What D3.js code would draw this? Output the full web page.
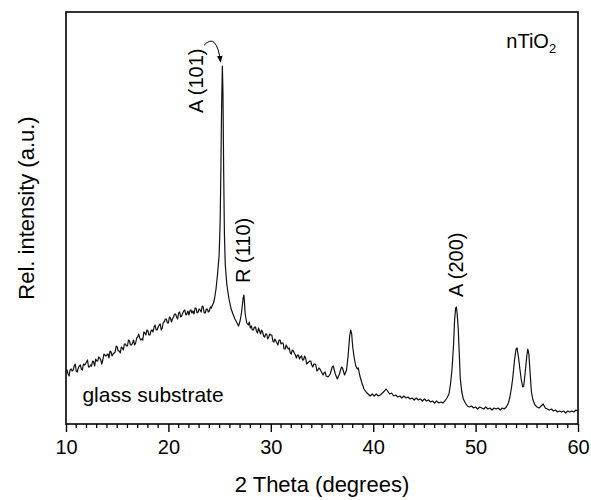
<!DOCTYPE html>
<html>
<head>
<meta charset="utf-8">
<script src="https://cdn.jsdelivr.net/npm/d3@7"></script>
<style>
  body { margin: 0; background: #fff; }
  svg { font-family: "Liberation Sans", Arial, sans-serif; }
</style>
</head>
<body>
<svg width="591" height="500"></svg>
<script>
  // XRD scan of nTiO2 on glass: [2theta, intensity]
  var scan = [
    [10.0,54],[10.1,54],[10.2,50],[10.3,48],[10.4,54],[10.5,55],[10.6,53],[10.7,54],[10.8,58],[10.9,60],
    [11.0,53],[11.1,52],[11.2,56],[11.3,58],[11.4,59],[11.5,55],[11.6,54],[11.7,60],[11.8,59],[11.9,60],
    [12.0,62],[12.1,64],[12.2,57],[12.3,57],[12.4,59],[12.5,58],[12.6,63],[12.7,62],[12.8,58],[12.9,65],
    [13.0,63],[13.1,63],[13.2,67],[13.3,66],[13.4,64],[13.5,60],[13.6,64],[13.7,70],[13.8,69],[13.9,68],
    [14.0,69],[14.1,70],[14.2,66],[14.3,73],[14.4,72],[14.5,68],[14.6,70],[14.7,71],[14.8,72],[14.9,78],
    [15.0,77],[15.1,73],[15.2,73],[15.3,71],[15.4,77],[15.5,76],[15.6,74],[15.7,80],[15.8,80],[15.9,78],
    [16.0,78],[16.1,84],[16.2,83],[16.3,79],[16.4,79],[16.5,81],[16.6,84],[16.7,79],[16.8,81],[16.9,86],
    [17.0,87],[17.1,90],[17.2,86],[17.3,84],[17.4,85],[17.5,84],[17.6,92],[17.7,91],[17.8,89],[17.9,94],
    [18.0,93],[18.1,89],[18.2,89],[18.3,93],[18.4,94],[18.5,92],[18.6,97],[18.7,99],[18.8,94],[18.9,94],
    [19.0,97],[19.1,99],[19.2,100],[19.3,94],[19.4,96],[19.5,102],[19.6,102],[19.7,105],[19.8,105],[19.9,101],
    [20.0,101],[20.1,107],[20.2,106],[20.3,102],[20.4,105],[20.5,107],[20.6,110],[20.7,110],[20.8,107],[20.9,105],
    [21.0,111],[21.1,112],[21.2,107],[21.3,108],[21.4,111],[21.5,113],[21.6,114],[21.7,109],[21.8,110],[21.9,113],
    [22.0,109],[22.1,113],[22.2,114],[22.3,111],[22.4,113],[22.5,110],[22.6,116],[22.7,116],[22.8,111],[22.9,112],
    [23.0,115],[23.1,114],[23.2,112],[23.3,118],[23.4,117],[23.5,111],[23.6,111],[23.7,115],[23.8,115],[23.9,112],
    [24.0,113],[24.1,117],[24.2,116],[24.3,119],[24.4,121],[24.5,125],[24.65,135],[24.8,150],[24.95,168],[25.05,200],
    [25.12,250],[25.2,320],[25.27,358],[25.33,330],[25.4,250],[25.47,190],[25.55,160],[25.7,140],[25.9,126],[26.1,116],
    [26.3,110],[26.5,105],[26.7,101],[26.85,98],[27.0,103],[27.15,112],[27.3,126],[27.38,129],[27.5,110],[27.65,101],
    [27.8,99],[27.9,102],[28.0,96],[28.1,98],[28.2,94],[28.3,94],[28.4,97],[28.5,97],[28.6,93],[28.7,91],
    [28.8,96],[28.9,93],[29.0,90],[29.1,94],[29.2,92],[29.3,88],[29.4,87],[29.5,90],[29.6,90],[29.7,85],
    [29.8,87],[29.9,90],[30.0,89],[30.1,89],[30.2,83],[30.3,82],[30.4,85],[30.5,83],[30.6,81],[30.7,79],
    [30.8,84],[30.9,84],[31.0,80],[31.1,81],[31.2,81],[31.3,75],[31.4,75],[31.5,79],[31.6,77],[31.7,75],
    [31.8,76],[31.9,71],[32.0,70],[32.1,74],[32.2,73],[32.3,71],[32.4,69],[32.5,66],[32.6,69],[32.7,69],
    [32.8,65],[32.9,67],[33.0,68],[33.1,64],[33.2,64],[33.3,68],[33.4,66],[33.5,60],[33.6,61],[33.7,62],
    [33.8,63],[33.9,63],[34.0,59],[34.1,57],[34.2,60],[34.3,60],[34.4,59],[34.5,53],[34.6,54],[34.7,56],
    [34.8,55],[34.9,53],[35.0,51],[35.1,49],[35.2,51],[35.3,52],[35.4,48],[35.6,47],[35.8,50],[36.0,57],
    [36.1,58],[36.3,50],[36.5,45],[36.7,50],[36.9,57],[37.0,56],[37.2,49],[37.4,54],[37.55,68],[37.7,88],
    [37.8,94],[37.9,90],[38.0,77],[38.15,66],[38.3,58],[38.45,55],[38.55,56],[38.7,48],[38.9,41],[39.1,35],
    [39.3,32],[39.5,30],[39.7,28],[39.9,30],[40.1,28],[40.3,30],[40.5,28],[40.7,29],[40.9,31],[41.1,33],
    [41.25,35],[41.4,33],[41.6,30],[41.8,31],[42.0,28],[42.2,29],[42.4,27],[42.6,28],[42.8,26],[43.0,28],
    [43.2,26],[43.4,27],[43.6,25],[43.8,26],[44.0,24],[44.2,26],[44.4,24],[44.6,25],[44.8,23],[45.0,25],
    [45.2,23],[45.4,24],[45.6,22],[45.8,23],[46.0,21],[46.2,23],[46.4,21],[46.6,22],[46.8,21],[47.0,23],
    [47.2,26],[47.4,30],[47.55,40],[47.7,55],[47.85,80],[47.95,104],[48.05,116],[48.12,117],[48.2,110],[48.3,96],
    [48.4,72],[48.5,46],[48.65,32],[48.8,25],[49.0,21],[49.2,18],[49.4,17],[49.6,18],[49.8,16],[50.0,17],
    [50.2,15],[50.4,17],[50.6,16],[50.8,15],[51.0,17],[51.2,15],[51.4,16],[51.6,14],[51.8,16],[52.0,15],
    [52.2,16],[52.4,14],[52.6,16],[52.8,15],[53.0,17],[53.2,21],[53.35,27],[53.5,36],[53.63,46],[53.8,64],
    [53.95,75],[54.05,76],[54.2,66],[54.3,57],[54.45,45],[54.6,37],[54.7,38],[54.85,52],[55.0,68],[55.1,75],
    [55.2,70],[55.3,55],[55.45,32],[55.6,24],[55.8,19],[56.0,17],[56.2,16],[56.4,18],[56.6,20],[56.8,16],
    [57.0,15],[57.2,14],[57.4,15],[57.6,13],[57.8,14],[58.0,12],[58.2,13],[58.4,12],[58.6,13],[58.8,11],
    [59.0,13],[59.2,12],[59.4,13],[59.6,12],[59.8,14],[60.0,13]
  ];

  var majorTicks = [10, 20, 30, 40, 50, 60];
  var minorTicks = d3.range(11, 60).filter(function (d) { return d % 10 !== 0; });

  // peak labels (rotated), in data coordinates
  var peakLabels = [
    { text: "A (101)", x: 23.42, y: 311 },
    { text: "R (110)", x: 28.0, y: 141 },
    { text: "A (200)", x: 48.8, y: 127 }
  ];

  var svg = d3.select("svg"),
    margin = { top: 12, right: 13, bottom: 76, left: 66 },
    width = 591 - margin.left - margin.right,
    height = 500 - margin.top - margin.bottom;

  var x = d3.scaleLinear().domain([10, 60]).range([0, width]);
  var y = d3.scaleLinear().domain([0, 412]).range([height, 0]);

  var g = svg.append("g")
    .attr("transform", "translate(" + margin.left + "," + margin.top + ")");

  // data line
  var line = d3.line()
    .x(function (d) { return x(d[0]); })
    .y(function (d) { return y(d[1]); });

  g.append("path")
    .datum(scan)
    .attr("fill", "none")
    .attr("stroke", "#111")
    .attr("stroke-width", 1.2)
    .attr("stroke-linejoin", "round")
    .attr("d", line);

  // frame
  g.append("rect")
    .attr("width", width)
    .attr("height", height)
    .attr("fill", "none")
    .attr("stroke", "#000")
    .attr("stroke-width", 1.6);

  // bottom axis: major + minor ticks pointing out
  var xAxis = g.append("g").attr("transform", "translate(0," + height + ")");
  xAxis.call(d3.axisBottom(x).tickValues(majorTicks).tickSize(8).tickPadding(8)
      .tickFormat(d3.format("d")))
    .call(function (a) { a.select(".domain").remove(); })
    .selectAll("text")
    .style("font-size", "20px")
    .style("font-family", "'Liberation Sans', Arial, sans-serif")
    .attr("fill", "#000");
  xAxis.selectAll(".tick line").attr("stroke-width", 1.4);

  xAxis.selectAll(".minor")
    .data(minorTicks)
    .enter()
    .append("line")
    .attr("class", "minor")
    .attr("x1", function (d) { return x(d); })
    .attr("x2", function (d) { return x(d); })
    .attr("y1", 0)
    .attr("y2", 4)
    .attr("stroke", "#000")
    .attr("stroke-width", 1.3);

  // axis titles
  svg.append("text")
    .attr("x", margin.left + width / 2)
    .attr("y", 492)
    .attr("text-anchor", "middle")
    .style("font-size", "22px")
    .text("2 Theta (degrees)");

  svg.append("text")
    .attr("transform", "translate(34," + (margin.top + 196) + ") rotate(-90)")
    .attr("text-anchor", "middle")
    .style("font-size", "22px")
    .text("Rel. intensity (a.u.)");

  // peak labels
  g.selectAll(".peak")
    .data(peakLabels)
    .enter()
    .append("text")
    .attr("class", "peak")
    .attr("transform", function (d) {
      return "translate(" + x(d.x) + "," + y(d.y) + ") rotate(-90)";
    })
    .style("font-size", "20px")
    .text(function (d) { return d.text; });

  // curved arrow from A (101) label to the peak top
  svg.append("defs").append("marker")
    .attr("id", "head")
    .attr("viewBox", "0 0 10 10")
    .attr("refX", 9)
    .attr("refY", 5)
    .attr("markerWidth", 7)
    .attr("markerHeight", 7)
    .attr("orient", "auto")
    .append("path")
    .attr("d", "M0,1 L10,5 L0,9 Z")
    .attr("fill", "#000");

  var a0 = [x(23.5), y(379)], a1 = [x(25.1), y(362)];
  var ctrl = [x(24.7), y(392)];
  g.append("path")
    .attr("d", "M" + a0 + " Q" + ctrl + " " + a1)
    .attr("fill", "none")
    .attr("stroke", "#000")
    .attr("stroke-width", 1)
    .attr("marker-end", "url(#head)");

  // sample + substrate labels
  g.append("text")
    .attr("x", x(11.6))
    .attr("y", y(22))
    .style("font-size", "21px")
    .text("glass substrate");

  var title = g.append("text")
    .attr("x", x(53.0))
    .attr("y", y(376))
    .style("font-size", "20px");
  title.append("tspan").text("nTiO");
  title.append("tspan").attr("dy", 5).style("font-size", "13px").text("2");
</script>
</body>
</html>
